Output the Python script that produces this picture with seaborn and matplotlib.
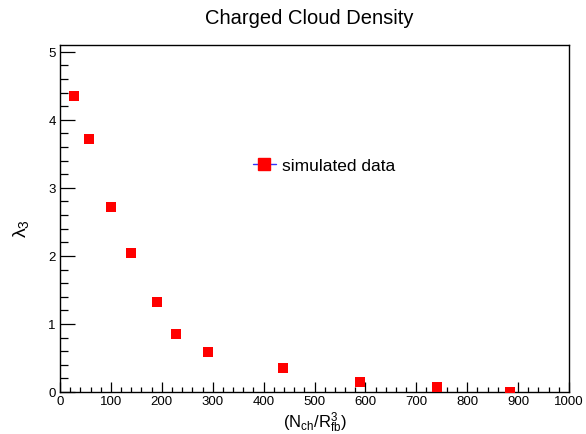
import numpy as np
import pandas as pd
import matplotlib
matplotlib.use("Agg")
import matplotlib.pyplot as plt
import seaborn as sns
from matplotlib.lines import Line2D
from matplotlib.ticker import MultipleLocator

# values
density = [28, 57, 100, 140, 191, 228, 291, 438, 589, 740, 885]
lambda3 = [4.35, 3.72, 2.72, 2.04, 1.32, 0.85, 0.585, 0.35, 0.14, 0.08, 0.0]
series_name = "simulated data"
title = "Charged Cloud Density"

df = pd.DataFrame({"x": density, "y": lambda3})

sns.set_style("white")
plt.rcParams["font.family"] = ["Liberation Sans", "DejaVu Sans"]
plt.rcParams["mathtext.fontset"] = "custom"
plt.rcParams["mathtext.rm"] = "Liberation Sans"
plt.rcParams["mathtext.it"] = "Liberation Sans:italic"
plt.rcParams["text.color"] = "black"
plt.rcParams["axes.labelcolor"] = "black"
plt.rcParams["xtick.color"] = "black"
plt.rcParams["ytick.color"] = "black"

fig = plt.figure(figsize=(5.86, 4.35), dpi=100)
ax = fig.add_axes([60 / 586, 42 / 435, 509 / 586, 347 / 435])

sns.scatterplot(data=df, x="x", y="y", marker="s", s=62, color="#ff0000",
                linewidth=0, ax=ax, legend=False, zorder=3)

ax.set_xlim(0, 1000)
ax.set_ylim(0, 5.1)
ax.xaxis.set_major_locator(MultipleLocator(100))
ax.xaxis.set_minor_locator(MultipleLocator(20))
ax.yaxis.set_major_locator(MultipleLocator(1))
ax.yaxis.set_minor_locator(MultipleLocator(0.2))

ax.tick_params(bottom=True, left=True, top=False, right=False, which="both")
ax.tick_params(axis="x", which="major", direction="in", length=7.5, width=0.9,
               labelsize=9.5, pad=2, color="black", labelcolor="black")
ax.tick_params(axis="x", which="minor", direction="in", length=3.7, width=0.9,
               color="black")
ax.tick_params(axis="y", which="major", direction="in", length=10.8, width=0.9,
               labelsize=9.5, pad=3, color="black", labelcolor="black")
ax.tick_params(axis="y", which="minor", direction="in", length=5.4, width=0.9,
               color="black")

for sp in ax.spines.values():
    sp.set_color("black")
    sp.set_linewidth(1.0)

ax.set_xlabel(r"$\mathrm{(N_{ch}/R_{fb}^{3})}$", fontsize=12)
ax.set_ylabel(r"λ$_{3}$", fontsize=14)
ax.xaxis.set_label_coords(0.5, -0.05)
ax.yaxis.set_label_coords(-0.057, 0.475)

fig.text(309 / 586, 0.945, title, ha="center", va="baseline", fontsize=14.5)

handle = Line2D([], [], color="#3333ff", linewidth=1, marker="s",
                markersize=8, markerfacecolor="#ff0000",
                markeredgecolor="#ff0000")
ax.legend([handle], [series_name], loc="center left",
          bbox_to_anchor=((253 - 60) / 509, (393 - 166) / 347),
          frameon=False, fontsize=12.5, handlelength=1.3,
          handletextpad=0.35, borderpad=0, borderaxespad=0)

fig.savefig("out.png", dpi=100)
